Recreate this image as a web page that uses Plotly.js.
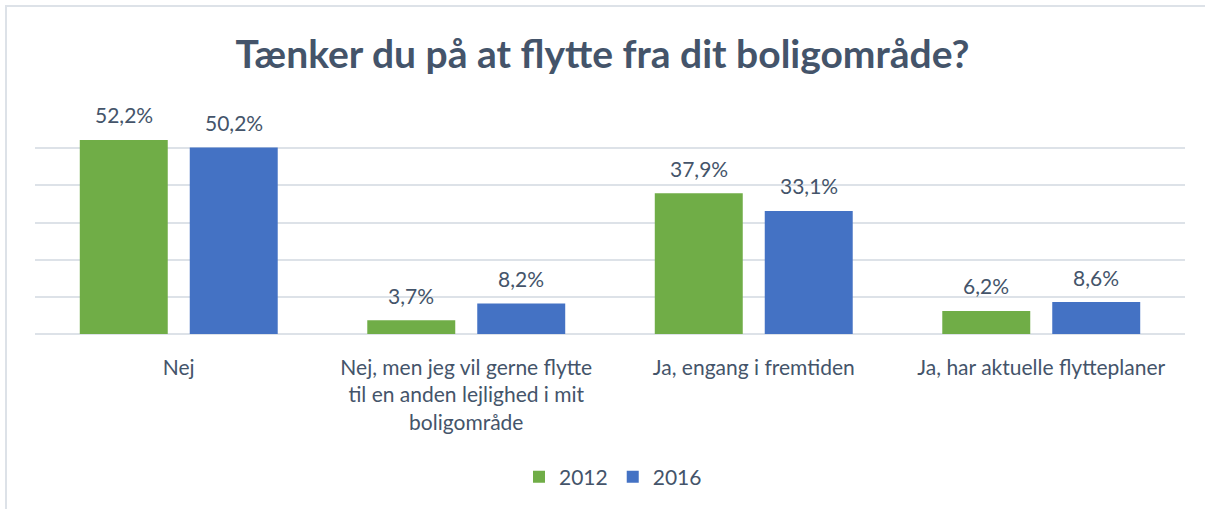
<!DOCTYPE html>
<html>
<head>
<meta charset="utf-8">
<script src="https://cdn.plot.ly/plotly-3.0.1.min.js"></script>
<style>
  html, body { margin: 0; padding: 0; background: #fff; }
  #wrap { position: relative; width: 1205px; height: 509px; overflow: hidden; }
  #chart { width: 1205px; height: 509px; }
  #frame { position: absolute; left: 5px; top: 5px; width: 1300px; height: 600px;
           border-left: 2px solid #DDE2E8; border-top: 2px solid #DDE2E8; pointer-events: none; }
</style>
</head>
<body>
<div id="wrap">
  <div id="chart"></div>
  <div id="frame"></div>
</div>
<script>
const categories = [
  "Nej",
  "Nej, men jeg vil gerne flytte<br>til en anden lejlighed i mit<br>boligområde",
  "Ja, engang i fremtiden",
  "Ja, har aktuelle flytteplaner"
];
const seriesNames = ["2012", "2016"];
const values2012 = [52.2, 3.7, 37.9, 6.2];
const values2016 = [50.2, 8.2, 33.1, 8.6];
const yTicks = [0, 10, 20, 30, 40, 50, 60];

const textColor = "#44546A";
const colors = ["#70AD47", "#4472C4"];
const seriesValues = [values2012, values2016];

const traces = seriesValues.map((vals, i) => ({
  type: "bar",
  name: seriesNames[i],
  x: categories,
  y: vals,
  marker: { color: colors[i] },
  hoverinfo: "x+y"
}));

// value labels placed above each bar (offset of grouped bar in px)
const barShift = 55;
const annotations = [];
seriesValues.forEach((vals, i) => {
  vals.forEach((v, j) => {
    annotations.push({
      x: categories[j], y: v, xref: "x", yref: "y",
      text: v.toFixed(1).replace(".", ",") + "%",
      showarrow: false,
      xshift: i === 0 ? -barShift : barShift,
      yshift: 25,
      yanchor: "middle",
      font: { family: "Lato, sans-serif", size: 21, color: textColor }
    });
  });
});

const layout = {
  width: 1205, height: 509,
  margin: { l: 35, r: 20, t: 111, b: 175 },
  paper_bgcolor: "rgba(0,0,0,0)",
  plot_bgcolor: "#fff",
  separators: ",.",
  barmode: "group",
  bargap: 0.235,
  bargroupgap: 0.2,
  title: {
    text: "<b>Tænker du på at flytte fra dit boligområde?</b>",
    font: { family: "Lato, sans-serif", size: 39, color: textColor },
    x: 0.5, xref: "container", xanchor: "center",
    y: 1 - 54 / 509, yref: "container", yanchor: "middle"
  },
  xaxis: {
    type: "category",
    tickfont: { family: "Lato, sans-serif", size: 21, color: textColor },
    ticks: "",
    ticklabelstandoff: 19,
    showline: false,
    showgrid: false,
    fixedrange: true
  },
  yaxis: {
    range: [0, 60],
    tickvals: yTicks,
    showticklabels: false,
    showgrid: true,
    gridcolor: "#DDE2E8",
    gridwidth: 1.5,
    zeroline: true,
    zerolinecolor: "#DDE2E8",
    zerolinewidth: 1.5,
    fixedrange: true
  },
  legend: {
    orientation: "h",
    x: (613 - 35) / 1150, xanchor: "center",
    y: 1 - 477 / 509, yref: "container", yanchor: "middle",
    font: { family: "Lato, sans-serif", size: 21, color: textColor },
    itemclick: false, itemdoubleclick: false
  },
  annotations: annotations,
  showlegend: true
};

Plotly.newPlot("chart", traces, layout, { displayModeBar: false, staticPlot: false });
</script>
</body>
</html>
